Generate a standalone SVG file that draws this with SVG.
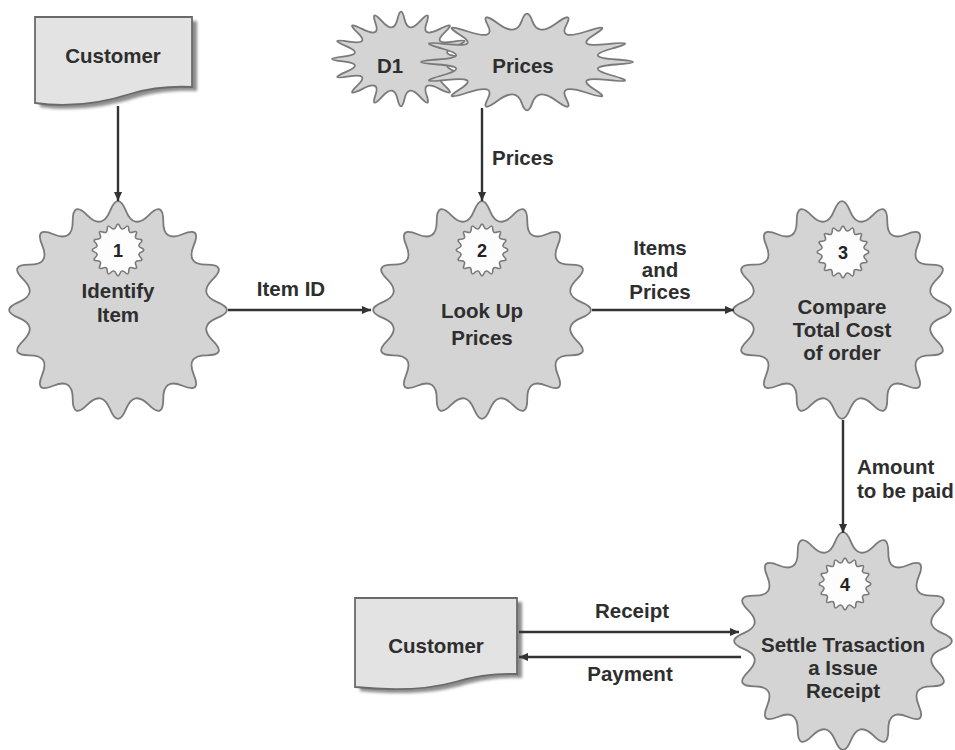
<svg xmlns="http://www.w3.org/2000/svg" width="955" height="750" viewBox="0 0 955 750">
  <style>
    .burst { fill: #d4d4d4; stroke: #7a7a7a; stroke-width: 1.8; }
    .badge { fill: #fdfdfd; stroke: #7a7a7a; stroke-width: 1.6; }
    .doc { fill: #e3e3e3; stroke: #6a6a6a; stroke-width: 1.8; }
    .shadow { fill: #8c8c8c; }
    .t { font-family: "Liberation Sans", Arial, sans-serif; font-weight: bold; font-size: 20.5px; fill: #2e2e2e; text-anchor: middle; }
    .l { text-anchor: start; }
    .num { font-size: 18px; fill: #222; }
    .flow { fill: none; stroke: #333; stroke-width: 2.4; marker-end: url(#ah); }
  </style>
  <defs>
    <!-- 16-lobe wavy starburst, tips at radius 110, valleys near 91 -->
    <path id="burst" vector-effect="non-scaling-stroke" d="M100.2,-8.02 Q119.8,0 100.2,8.02 T95.64,30.94 T89.5,45.75 T76.52,65.18 T65.18,76.52 T45.75,89.5 T30.94,95.64 T8.02,100.2 T-8.02,100.2 T-30.94,95.64 T-45.75,89.5 T-65.18,76.52 T-76.52,65.18 T-89.5,45.75 T-95.64,30.94 T-100.2,8.02 T-100.2,-8.02 T-95.64,-30.94 T-89.5,-45.75 T-76.52,-65.18 T-65.18,-76.52 T-45.75,-89.5 T-30.94,-95.64 T-8.02,-100.2 T8.02,-100.2 T30.94,-95.64 T45.75,-89.5 T65.18,-76.52 T76.52,-65.18 T89.5,-45.75 T95.64,-30.94 T100.2,-8.02 Z"/>
    <!-- deeper 16-lobe burst for data stores, tips at 110, valleys near 75 -->
    <path id="cloud" vector-effect="non-scaling-stroke" d="M92.39,-5.68 Q127.61,0 92.39,5.68 T87.53,30.1 T83.18,40.61 T69.35,61.31 T61.31,69.35 T40.61,83.18 T30.1,87.53 T5.68,92.39 T-5.68,92.39 T-30.1,87.53 T-40.61,83.18 T-61.31,69.35 T-69.35,61.31 T-83.18,40.61 T-87.53,30.1 T-92.39,5.68 T-92.39,-5.68 T-87.53,-30.1 T-83.18,-40.61 T-69.35,-61.31 T-61.31,-69.35 T-40.61,-83.18 T-30.1,-87.53 T-5.68,-92.39 T5.68,-92.39 T30.1,-87.53 T40.61,-83.18 T61.31,-69.35 T69.35,-61.31 T83.18,-40.61 T87.53,-30.1 T92.39,-5.68 Z"/>
    <marker id="ah" viewBox="0 0 10 10" refX="10" refY="5" markerWidth="10" markerHeight="9" markerUnits="userSpaceOnUse" orient="auto">
      <path d="M0,0.5 L10,5 L0,9.5 z" fill="#333"/>
    </marker>
    <filter id="soft" x="-10%" y="-10%" width="130%" height="130%">
      <feGaussianBlur stdDeviation="1.6"/>
    </filter>
  </defs>

  <!-- external entity: Customer (source) -->
  <g id="customer-top">
    <path class="shadow" filter="url(#soft)" transform="translate(5,4)" d="M35,17 H192 V87 C170,86 150,88 130,94 C105,102 70,108 35,103 Z"/>
    <path class="doc" d="M35,17 H192 V87 C170,86 150,88 130,94 C105,102 70,108 35,103 Z"/>
    <text class="t" x="113" y="63">Customer</text>
  </g>

  <!-- data store D1 / Prices -->
  <g id="store-d1">
    <use href="#cloud" class="burst" transform="translate(401,59) scale(0.627,0.43)"/>
    <text class="t" x="390" y="73">D1</text>
  </g>
  <g id="store-prices">
    <use href="#cloud" class="burst" transform="translate(527,62) scale(0.964,0.44)"/>
    <text class="t" x="523" y="73">Prices</text>
  </g>

  <!-- process 1 -->
  <g id="p1">
    <use href="#burst" class="burst" transform="translate(118,310) scale(0.99)"/>
    <use href="#burst" class="badge" transform="translate(118,250) scale(0.235)"/>
    <text class="t num" x="118" y="257">1</text>
    <text class="t" x="118" y="298">Identify</text>
    <text class="t" x="118" y="322">Item</text>
  </g>

  <!-- process 2 -->
  <g id="p2">
    <use href="#burst" class="burst" transform="translate(482,310) scale(0.99)"/>
    <use href="#burst" class="badge" transform="translate(482,250) scale(0.235)"/>
    <text class="t num" x="482" y="257">2</text>
    <text class="t" x="482" y="318">Look Up</text>
    <text class="t" x="482" y="345">Prices</text>
  </g>

  <!-- process 3 -->
  <g id="p3">
    <use href="#burst" class="burst" transform="translate(842,310) scale(0.99)"/>
    <use href="#burst" class="badge" transform="translate(843,252) scale(0.235)"/>
    <text class="t num" x="843" y="259">3</text>
    <text class="t" x="842" y="314">Compare</text>
    <text class="t" x="842" y="337">Total Cost</text>
    <text class="t" x="842" y="360">of order</text>
  </g>

  <!-- process 4 -->
  <g id="p4">
    <use href="#burst" class="burst" transform="translate(843,641) scale(0.99)"/>
    <use href="#burst" class="badge" transform="translate(845,584) scale(0.235)"/>
    <text class="t num" x="845" y="591">4</text>
    <text class="t" x="843" y="652">Settle Trasaction</text>
    <text class="t" x="843" y="675">a Issue</text>
    <text class="t" x="843" y="698">Receipt</text>
  </g>

  <!-- external entity: Customer (sink) -->
  <g id="customer-bottom">
    <path class="shadow" filter="url(#soft)" transform="translate(5,4)" d="M355,598 H517 V674 C495,673 475,676 455,682 C430,689 395,691 355,687 Z"/>
    <path class="doc" d="M355,598 H517 V674 C495,673 475,676 455,682 C430,689 395,691 355,687 Z"/>
    <text class="t" x="436" y="653">Customer</text>
  </g>

  <!-- data flows -->
  <g id="flows">
    <path class="flow" d="M118,106 V201"/>
    <path class="flow" d="M482,108 V201"/>
    <path class="flow" d="M228,310 H371"/>
    <path class="flow" d="M592,310 H734"/>
    <path class="flow" d="M843,420 V533"/>
    <path class="flow" d="M519,632 H739"/>
    <path class="flow" d="M741,657 H519"/>
    <text class="t l" x="492" y="165">Prices</text>
    <text class="t" x="291" y="296">Item ID</text>
    <text class="t" x="660" y="255">Items</text>
    <text class="t" x="660" y="277">and</text>
    <text class="t" x="660" y="299">Prices</text>
    <text class="t l" x="857" y="474">Amount</text>
    <text class="t l" x="857" y="498">to be paid</text>
    <text class="t" x="632" y="618">Receipt</text>
    <text class="t" x="630" y="681">Payment</text>
  </g>
</svg>
